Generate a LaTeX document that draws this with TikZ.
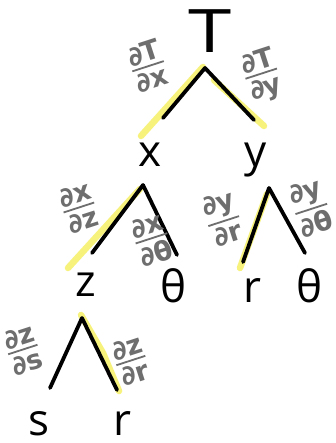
\documentclass[tikz,border=0pt]{standalone}
\usepackage{fontspec}
\setmainfont{Open Sans}
\newfontfamily\labfont{DejaVu Sans}
\usetikzlibrary{calc}
\definecolor{hlyellow}{HTML}{F6F27C}
\definecolor{labgray}{HTML}{6E6E6E}
\newcommand\myfr[2]{\vbox{\offinterlineskip\halign{\hfil##\hfil\cr #1\cr\noalign{\kern3pt}\leaders\hrule height 1.8pt\hfill\cr\noalign{\kern4pt}#2\cr}}}
\begin{document}
\begin{tikzpicture}[x=1pt,y=-1pt,
  leg/.style={line width=3.8pt,line cap=round,line join=round},
  hl/.style={line width=6.5pt,line cap=round,hlyellow},
  bigT/.style={font=\fontsize{60}{60}\selectfont,anchor=base,inner sep=0pt,transform shape,xscale=1.3},
  big/.style={font=\fontsize{44}{44}\selectfont,anchor=base,inner sep=0pt},
  lab/.style={font=\labfont\fontsize{27}{27}\selectfont\bfseries,text=labgray,rotate=18,inner sep=0pt}]
\fill[white] (0,0) rectangle (336,443);
\useasboundingbox (0,0) rectangle (336,443);
% apexes and leg ends
\coordinate (aT) at (205,68);  \coordinate (aTl) at (163,118); \coordinate (aTr) at (254,120);
\coordinate (hTl1) at (203,67); \coordinate (hTl2) at (141,136);
\coordinate (hTr1) at (214,80); \coordinate (hTr2) at (264,126);
\coordinate (ax) at (143,185); \coordinate (axl) at (92,253); \coordinate (axr) at (177,255);
\coordinate (hxl1) at (140,189); \coordinate (hxl2) at (68,268);
\coordinate (ay) at (269,188); \coordinate (ayl) at (243,262); \coordinate (ayr) at (305,253);
\coordinate (hyl1) at (267,194); \coordinate (hyl2) at (240,268);
\coordinate (az) at (82,318); \coordinate (azl) at (50,388); \coordinate (azr) at (117,390);
\coordinate (hzr1) at (81,315); \coordinate (hzr2) at (119,391);
% highlights
\draw[hl] (hTl1) -- (hTl2);
\draw[hl] (hTr1) -- (hTr2);
\draw[hl] (hxl1) -- (hxl2);
\draw[hl] (hyl1) -- (hyl2);
\draw[hl] (hzr1) -- ($(hzr1)!0.5!(hzr2)+(3,0)$) -- (hzr2);
% legs
\draw[leg] (aTl) -- (aT) -- (aTr);
\draw[leg] (axl) -- (ax) -- (axr);
\draw[leg] (ayl) -- (ay) -- (ayr);
\draw[leg] (azl) -- (az) -- (azr);
% letters
\node[bigT] (T) at (210,53) {T};
\node[big] (x) at (150,167) {x};
\node[big] (y) at (256,167) {y};
\node[big] (z) at (86,296) {z};
\node[big] (th1) at (174,302) {θ};
\node[big] (r1) at (252,302) {r};
\node[big] (th2) at (310,302) {θ};
\node[big] (s) at (39,435) {s};
\node[big] (r2) at (122,435) {r};
% labels
\node[lab] (lTx) at (148,66) {\myfr{∂T}{∂x}};
\node[lab] (lTy) at (262,76) {\myfr{∂T}{∂y}};
\node[lab] (lxz) at (79,208) {\myfr{∂x}{∂z}};
\node[lab] (lxt) at (152,240) {\myfr{∂x}{∂θ}};
\node[lab] (lyr) at (223,219) {\myfr{∂y}{∂r}};
\node[lab] (lyt) at (311,208) {\myfr{∂y}{∂θ}};
\node[lab] (lzs) at (23,350) {\myfr{∂z}{∂s}};
\node[lab] (lzr) at (131,361) {\myfr{∂z}{∂r}};
\end{tikzpicture}
\end{document}
